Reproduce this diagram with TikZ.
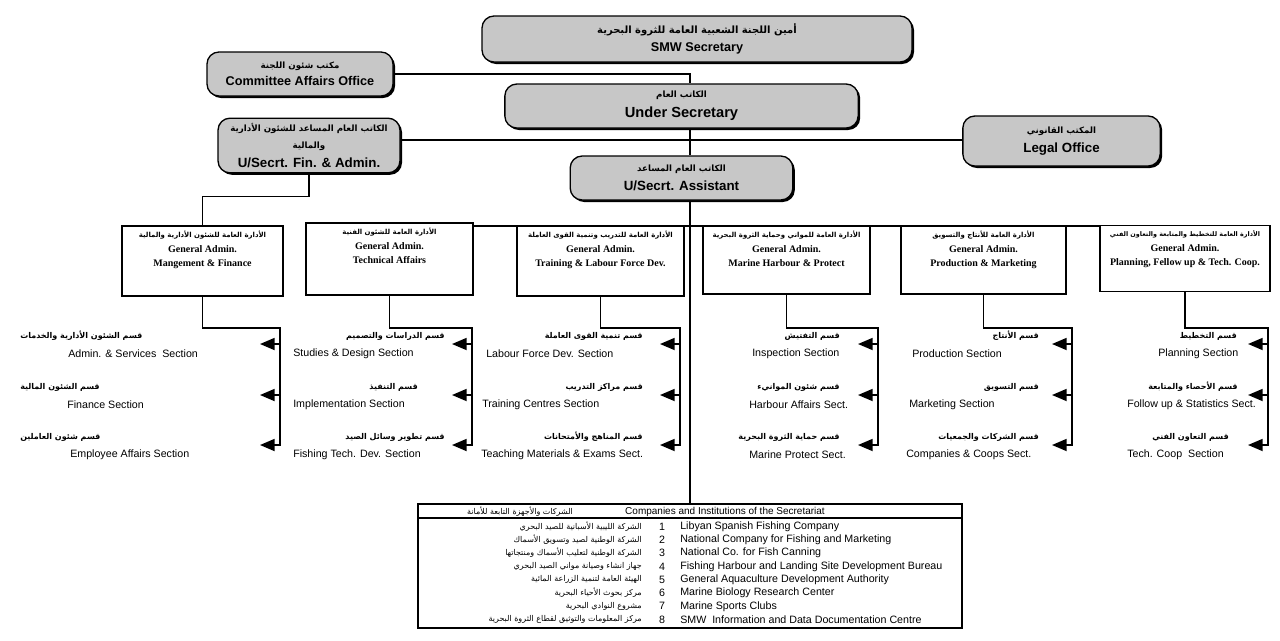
\documentclass[tikz,border=0pt]{standalone}
\usepackage{fontspec}
\setmainfont{Liberation Serif}
\newfontfamily\arfont[Script=Arabic]{DejaVu Sans}
\newfontfamily\hvfont{Liberation Sans}
\TeXXeTstate=1
\usetikzlibrary{arrows.meta, shadows, positioning}
\newcommand{\artext}[2][6.5]{{\arfont\fontsize{#1}{#1}\selectfont\beginR #2\endR}}

\tikzstyle{office}=[rectangle, rounded corners=9pt, draw, line width=1pt, fill=black!22, drop shadow={shadow xshift=1.5pt, shadow yshift=-1.5pt, fill=black, opacity=1}, align=center, inner sep=1pt, font=\hvfont\bfseries]
\tikzstyle{dept}=[rectangle, draw, line width=1.2pt, inner sep=0pt]
\tikzstyle{depttext}=[align=center, inner sep=0pt, font=\bfseries\fontsize{7.5}{11}\selectfont]
\tikzstyle{line}=[line width=1.3pt]
\tikzstyle{arrow}=[line, -{Triangle[length=11pt,width=9pt]}]
\tikzstyle{sect}=[inner sep=0pt, font=\hvfont\fontsize{8}{9}\selectfont]
\tikzstyle{sectar}=[inner sep=0pt, font=\arfont\bfseries\fontsize{6}{7}\selectfont]
\tikzstyle{tabar}=[inner sep=0pt, font=\arfont\fontsize{6}{7}\selectfont]

\begin{document}
\begin{tikzpicture}[x=0.75pt,y=-0.75pt]
\useasboundingbox (0,0) rectangle (1280,640);
\fill[white] (0,0) rectangle (1280,640);

% top offices
\node[office, minimum width=322.5pt, minimum height=34.5pt] (smw) at (697,39)
  {\artext[7.5]{أمين اللجنة الشعبية العامة للثروة البحرية}\\[1pt]{\fontsize{9.5}{11}\selectfont SMW Secretary}};
\node[office, minimum width=139.5pt, minimum height=33pt] (comm) at (300,74)
  {\artext{مكتب شئون اللجنة}\\[1pt]{\fontsize{9.5}{11}\selectfont Committee Affairs Office}};
\node[office, minimum width=265pt, minimum height=33pt] (under) at (681.5,106)
  {\artext{الكاتب العام}\\[3pt]{\fontsize{11}{13}\selectfont Under Secretary}};
\node[office, minimum width=136.5pt, minimum height=41pt] (fin) at (309,145.5)
  {\artext{الكاتب العام المساعد للشئون الأدارية}\\[1pt]\artext{والمالية}\\[2pt]{\fontsize{10}{12}\selectfont U/Secrt. Fin. \& Admin.}};
\node[office, minimum width=148pt, minimum height=37.5pt] (legal) at (1061.5,141)
  {\artext{المكتب القانوني}\\[2pt]{\fontsize{10}{12}\selectfont Legal Office}};
\node[office, minimum width=167pt, minimum height=33pt] (assist) at (681.5,178)
  {\artext{الكاتب العام المساعد}\\[2pt]{\fontsize{10}{12}\selectfont U/Secrt. Assistant}};

\coordinate (trunk) at (690,0);
\coordinate (hbar) at (0,140);
\coordinate (dbar) at (0,226);
\draw[line] (comm.east) -| (trunk |- under.north);
\draw[line] (trunk |- under.south) -- (trunk |- assist.north);
\draw[line] (hbar -| fin.east) -- (hbar -| legal.west);

% general administrations
\node[dept, minimum width=120.75pt, minimum height=52.5pt] (d1) at (202.5,261) {};
\node[dept, minimum width=125.25pt, minimum height=54pt] (d2) at (389.5,259) {};
\node[dept, minimum width=125.25pt, minimum height=52.5pt] (d3) at (600.5,261) {};
\node[dept, minimum width=125.25pt, minimum height=51pt] (d4) at (786.5,260) {};
\node[dept, minimum width=123.75pt, minimum height=51pt] (d5) at (983.5,260) {};
\node[dept, minimum width=127.5pt, minimum height=49.5pt] (d6) at (1185,258.5) {};
\node[depttext, below=4pt of d1.north] (d1t) {\artext[5.2]{الأدارة العامة للشئون الأدارية والمالية}\\General Admin.\\Mangement \& Finance};
\node[depttext, below=4pt of d2.north] (d2t) {\artext[5.2]{الأدارة العامة للشئون الفنية}\\General Admin.\\Technical Affairs};
\node[depttext, below=4pt of d3.north] (d3t) {\artext[5.2]{الأدارة العامة للتدريب وتنمية القوى العاملة}\\General Admin.\\Training \& Labour Force Dev.};
\node[depttext, below=4pt of d4.north] (d4t) {\artext[5.2]{الأدارة العامة للمواني وحماية الثروة البحرية}\\General Admin.\\Marine Harbour \& Protect};
\node[depttext, below=4pt of d5.north] (d5t) {\artext[5.2]{الأدارة العامة للأنتاج والتسويق}\\General Admin.\\Production \& Marketing};
\node[depttext, below=4pt of d6.north] (d6t) {\artext[4.8]{الأدارة العامة للتخطيط والمتابعة والتعاون الفني}\\General Admin.\\Planning, Fellow up \& Tech. Coop.};

\draw[line] (fin.south) -- ++(0,23) -| (d1.north);
\draw[line] (dbar -| d2.east) -- (dbar -| d6.west);

% table of companies
\node[draw, line width=1pt, minimum width=408pt, minimum height=93pt, inner sep=0pt] (tab) at (690,566) {};
\draw[line] (trunk |- assist.south) -- (trunk |- tab.north);
\coordinate (thead) at (0,518);
\draw[line width=0.8pt] (thead -| tab.west) -- (thead -| tab.east);
\node[tabar] (th1) at (520,511.5) {\beginR الشركات والأجهزة التابعة للأمانة\endR};
\node[sect, font=\hvfont\fontsize{7.5}{8}\selectfont] (th2) at (725,511.5) {Companies and Institutions of the Secretariat};
\foreach \i/\atxt/\etxt in {
  1/{الشركة الليبية الأسبانية للصيد البحري}/{Libyan Spanish Fishing Company},
  2/{الشركة الوطنية لصيد وتسويق الأسماك}/{National Company for Fishing and Marketing},
  3/{الشركة الوطنية لتعليب الأسماك ومنتجاتها}/{National Co. for Fish Canning},
  4/{جهاز انشاء وصيانة مواني الصيد البحري}/{Fishing Harbour and Landing Site Development Bureau},
  5/{الهيئة العامة لتنمية الزراعة المائية}/{General Aquaculture Development Authority},
  6/{مركز بحوث الأحياء البحرية}/{Marine Biology Research Center},
  7/{مشروع النوادي البحرية}/{Marine Sports Clubs},
  8/{مركز المعلومات والتوثيق لقطاع الثروة البحرية}/{SMW \ Information and Data Documentation Centre}}{
  \node[tabar, anchor=east] (ta\i) at (642,{526.5+13.3*(\i-1)}) {\beginR\atxt\endR};
  \node[sect] (tn\i) at (662,{526.5+13.3*(\i-1)}) {\i};
  \node[sect, anchor=west] (te\i) at (680,{526.5+13.3*(\i-1)}) {\etxt};
}

% sections
\foreach \k/\bx/\tx in {1/280/260, 2/472/452, 3/680/660, 4/878/858, 5/1072/1052, 6/1268/1248}{
  \coordinate (b\k) at (\bx,328);
  \foreach \r/\y in {1/344, 2/395, 3/445}
    \coordinate (t\k\r) at (\tx,\y);
  \draw[arrow] (d\k.south) |- (b\k) |- (t\k3);
  \draw[arrow] (b\k |- t\k1) -- (t\k1);
  \draw[arrow] (b\k |- t\k2) -- (t\k2);
}
\foreach \n/\an/\ax/\ex/\y/\atxt/\etxt in {
  11/west/20/68/344/{قسم الشئون الأدارية والخدمات}/{Admin. \& Services \ Section},
  12/west/20/67/395/{قسم الشئون المالية}/{Finance Section},
  13/west/20/70/445/{قسم شئون العاملين}/{Employee Affairs Section},
  21/east/445/293/344/{قسم الدراسات والتصميم}/{Studies \& Design Section},
  22/east/418/293/395/{قسم التنفيذ}/{Implementation Section},
  23/east/445/293/445/{قسم تطوير وسائل الصيد}/{Fishing Tech. Dev. Section},
  31/east/643/486/344/{قسم تنمية القوى العاملة}/{Labour Force Dev. Section},
  32/east/643/482/395/{قسم مراكز التدريب}/{Training Centres Section},
  33/east/643/481/445/{قسم المناهج والأمتحانات}/{Teaching Materials \& Exams Sect.},
  41/east/840/752/344/{قسم التفتيش}/{Inspection Section},
  42/east/840/749/395/{قسم شئون الموانيء}/{Harbour Affairs Sect.},
  43/east/840/749/445/{قسم حماية الثروة البحرية}/{Marine Protect Sect.},
  51/east/1039/912/344/{قسم الأنتاج}/{Production Section},
  52/east/1039/909/395/{قسم التسويق}/{Marketing Section},
  53/east/1039/906/445/{قسم الشركات والجمعيات}/{Companies \& Coops Sect.},
  61/east/1237/1158/344/{قسم التخطيط}/{Planning Section},
  62/east/1238/1127/395/{قسم الأحصاء والمتابعة}/{Follow up \& Statistics Sect.},
  63/east/1229/1127/445/{قسم التعاون الفني}/{Tech. Coop \ Section}}{
  \node[sectar, anchor=\an] (sa\n) at (\ax,\y-8) {\beginR\atxt\endR};
  \node[sect, anchor=west] (se\n) at (\ex,\y+10) {\etxt};
}
\end{tikzpicture}
\end{document}
